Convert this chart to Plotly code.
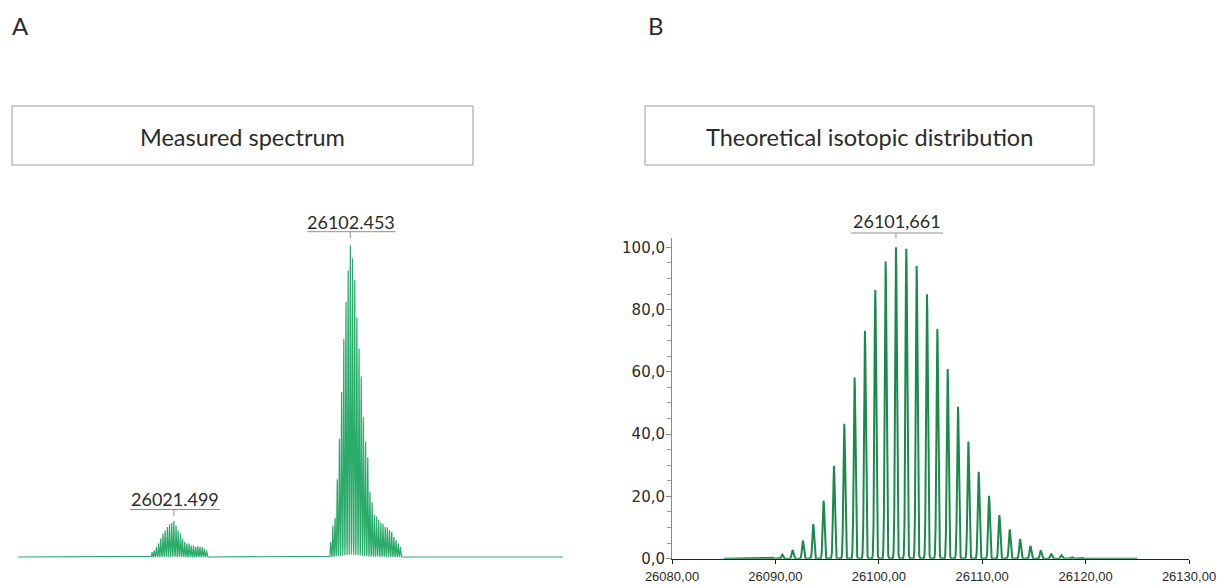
import numpy as np
import plotly.graph_objects as go

W, H = 1226, 586

# ---------------- data ----------------
# Panel A: measured spectrum (relative intensity, %), isotopic peak centroids
measured_small_masses = [26011.5, 26012.5, 26013.5, 26014.5, 26015.5, 26016.5, 26017.5,
                         26018.5, 26019.5, 26020.5, 26021.499, 26022.5, 26023.5, 26024.5,
                         26025.5, 26026.5, 26027.5, 26028.5, 26029.5, 26030.5, 26031.5,
                         26032.5, 26033.5, 26034.5, 26035.5, 26036.5]
measured_small_int = [1.6, 2.1, 3.2, 4.3, 5.9, 7.5, 8.5, 9.6, 10.5, 10.9, 11.5, 10.1, 8.5,
                      7.5, 5.9, 4.8, 4.3, 4.3, 3.7, 3.7, 3.2, 3.5, 3.2, 3.2, 2.7, 2.1]

measured_big_masses = [26093.45, 26094.45, 26095.45, 26096.45, 26097.45, 26098.45, 26099.45,
                       26100.45, 26101.45, 26102.453, 26103.45, 26104.45, 26105.45, 26106.45,
                       26107.45, 26108.45, 26109.45, 26110.45, 26111.45, 26112.45, 26113.45,
                       26114.45, 26115.45, 26116.45, 26117.45, 26118.45, 26119.45, 26120.45,
                       26121.45, 26122.45, 26123.45, 26124.45, 26125.45]
measured_big_int = [4.8, 10, 12.5, 25, 38, 53, 70, 82, 92, 100, 96, 89, 77, 67, 58, 45, 37,
                    32, 21, 17.6, 13.5, 13, 12, 11, 10.6, 9.6, 9.5, 8.6, 8, 6.4, 5.4, 4.3, 3.2]

measured_labels = [26021.499, 26102.453]

# Panel B: theoretical isotopic distribution
theo_masses = [26088.66, 26089.66, 26090.66, 26091.66, 26092.66, 26093.66, 26094.66,
               26095.66, 26096.66, 26097.66, 26098.66, 26099.66, 26100.66, 26101.661,
               26102.66, 26103.66, 26104.66, 26105.66, 26106.66, 26107.66, 26108.66,
               26109.66, 26110.66, 26111.66, 26112.66, 26113.66, 26114.66, 26115.66,
               26116.66, 26117.66, 26118.66, 26119.66, 26120.66, 26121.66]
theo_int = [0.2, 0.4, 1.3, 2.8, 5.8, 11.1, 18.7, 29.8, 43.3, 58.2, 73.2, 86.3, 95.4, 100,
            99.5, 94.0, 84.9, 73.8, 60.9, 48.8, 37.6, 27.9, 20.2, 14.0, 9.4, 6.3, 4.1,
            2.6, 1.6, 1.1, 0.5, 0.3, 0.2, 0.1]
theo_label = 26101.661

theo_xticks = [26080, 26090, 26100, 26110, 26120, 26130]
theo_xticktext = ["26080,00", "26090,00", "26100,00", "26110,00", "26120,00", "26130,00"]
theo_yticks = [0, 20, 40, 60, 80, 100]
theo_yticktext = ["0,0", "20,0", "40,0", "60,0", "80,0", "100,0"]

panel_letters = ["A", "B"]
panel_titles = ["Measured spectrum", "Theoretical isotopic distribution"]


# ---------------- helpers ----------------
def px(p):
    return p / W


def py(p):
    return 1 - p / H


def profile(grid, masses, heights, sigma):
    g = np.asarray(grid)[:, None]
    m = np.asarray(masses)[None, :]
    h = np.asarray(heights)[None, :]
    return (h * np.exp(-0.5 * ((g - m) / sigma) ** 2)).sum(axis=1)


green_a = "#2aab6a"
green_b = "#188a4a"
text_col = "#2b2b2b"

fig = go.Figure()

# Panel A profile
grid_a = np.arange(25950, 26200.0001, 0.02)
y_a = profile(grid_a, measured_small_masses + measured_big_masses,
              measured_small_int + measured_big_int, 0.15)
fig.add_trace(go.Scatter(x=grid_a, y=y_a, mode="lines",
                         line=dict(color=green_a, width=1.2),
                         xaxis="x2", yaxis="y2", hoverinfo="skip", showlegend=False))

# Panel B profile
grid_b = np.arange(26085, 26125.0001, 0.01)
y_b = profile(grid_b, theo_masses, theo_int, 0.085)
fig.add_trace(go.Scatter(x=grid_b, y=y_b, mode="lines",
                         line=dict(color=green_b, width=2.0),
                         xaxis="x", yaxis="y", hoverinfo="skip", showlegend=False))

# Panel B: x 26080 at px 672, 26130 at px 1189 ; y 0 at px 558.7, 3.114 px per unit
yb0 = 558.7
yb_scale = 3.114
yb_top = 103
fig.update_layout(
    xaxis=dict(domain=[px(672), px(1189)], range=[26080, 26130], anchor="y",
               automargin=False,
               showgrid=False, zeroline=False, showline=True, linecolor="#222",
               linewidth=1, ticks="outside", ticklen=4, tickcolor="#222",
               tickvals=theo_xticks, ticktext=theo_xticktext,
               tickfont=dict(family="Liberation Sans, Arial", size=13, color=text_col),
               ticklabelstandoff=2),
    yaxis=dict(domain=[py(yb0), py(yb0 - yb_top * yb_scale)], range=[0, yb_top],
               anchor="x", automargin=False, showgrid=False, zeroline=False,
               showline=True, linecolor="#8a8a8a", linewidth=1, ticks="outside",
               ticklen=5, tickcolor="#8a8a8a", tickvals=theo_yticks,
               ticktext=theo_yticktext, ticklabelstandoff=-2,
               minor=dict(dtick=5, ticks="outside", ticklen=4, tickcolor="#9a9a9a"),
               tickfont=dict(family="DejaVu Sans", size=15, color=text_col)),
)

# Panel A: x 25950 at px 18, 26200 at px 563 ; y 0 at px 557, 3.12 px per unit
ya0 = 557
ya_scale = 3.12
fig.update_layout(
    xaxis2=dict(domain=[px(18), px(563)], range=[25950, 26200], anchor="y2",
                visible=False, automargin=False),
    yaxis2=dict(domain=[py(ya0 + 2 * ya_scale), py(ya0 - 106 * ya_scale)],
                range=[-2, 106], anchor="x2", visible=False, automargin=False),
)

annotations = []
shapes = []

# panel letters
for letter, xp in zip(panel_letters, [10, 646]):
    annotations.append(dict(text=letter, x=px(xp), y=py(25.5), xref="paper", yref="paper",
                            xanchor="left", yanchor="middle", showarrow=False,
                            font=dict(family="Lato", size=24, color=text_col)))

# title boxes
boxes = [(12, 473), (645, 1094)]
for title, (x0, x1) in zip(panel_titles, boxes):
    shapes.append(dict(type="rect", xref="paper", yref="paper", x0=px(x0), x1=px(x1),
                       y0=py(165), y1=py(106), line=dict(color="#9a9a9a", width=1),
                       fillcolor="white", layer="below"))
    annotations.append(dict(text=title, x=px((x0 + x1) / 2), y=py(137), xref="paper",
                            yref="paper", xanchor="center", yanchor="middle",
                            showarrow=False,
                            font=dict(family="Lato", size=23.5, color=text_col)))

# peak labels with underline + small tick
peak_label_specs = [
    # (mass, text, xref, text_center_y, underline_y, tick_bottom_y, half_width)
    (measured_labels[0], f"{measured_labels[0]:.3f}", "x2", 499, 509.5, 516, 44),
    (measured_labels[1], f"{measured_labels[1]:.3f}", "x2", 222, 231.7, 238.5, 43),
    (theo_label, f"{theo_label:.3f}".replace(".", ","), "x", 221, 233, 238.5, 45),
]
for mass, txt, xr, ty, uy, tb, hw in peak_label_specs:
    annotations.append(dict(text=txt, x=mass, y=py(ty), xref=xr, yref="paper",
                            xanchor="center", yanchor="middle", showarrow=False,
                            xshift=1,
                            font=dict(family="Lato", size=18, color=text_col)))
    shapes.append(dict(type="line", xref=xr, yref="paper", xsizemode="pixel",
                       xanchor=mass, x0=-hw, x1=hw + 2, y0=py(uy), y1=py(uy),
                       line=dict(color="#8f8f8f", width=1)))
    shapes.append(dict(type="line", xref=xr, yref="paper", xsizemode="pixel",
                       xanchor=mass, x0=0, x1=0, y0=py(uy), y1=py(tb),
                       line=dict(color="#8f8f8f", width=1)))

fig.update_layout(
    template="none",
    width=W, height=H, margin=dict(l=0, r=0, t=0, b=0, pad=0, autoexpand=False),
    paper_bgcolor="white", plot_bgcolor="rgba(0,0,0,0)",
    showlegend=False, annotations=annotations, shapes=shapes,
)

fig.write_html(
    "out.html",
    config={"displayModeBar": False},
    post_script="document.body.style.margin='0px';"
                "document.body.style.overflow='hidden';",
)
